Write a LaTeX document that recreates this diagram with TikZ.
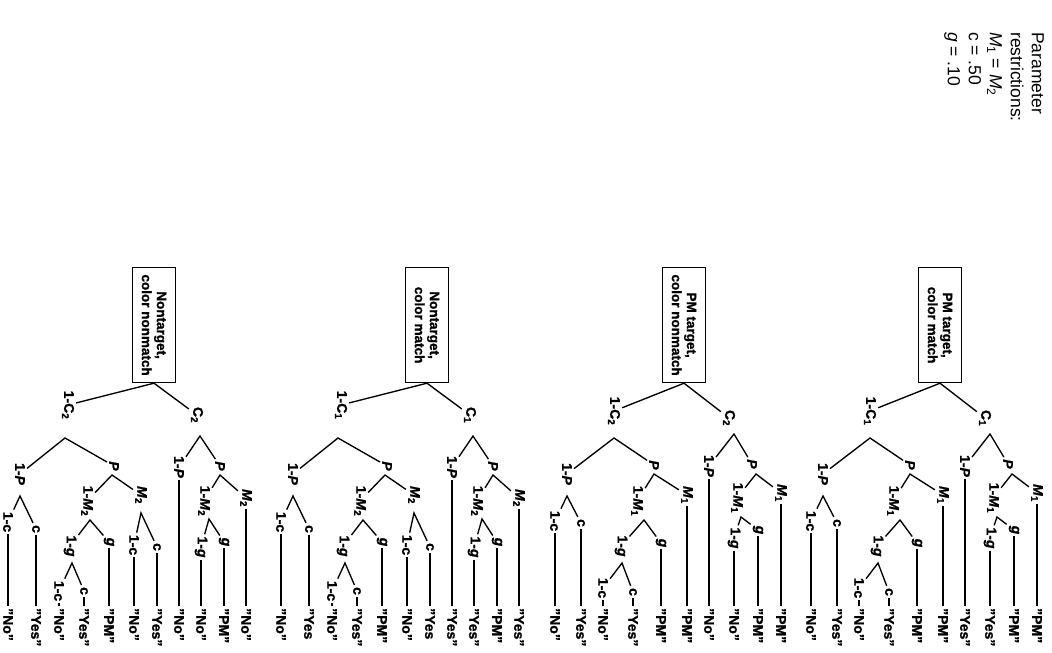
\documentclass[tikz,border=0pt]{standalone}
\usepackage{fontspec}
\setmainfont{Liberation Sans}[BoldFeatures={FakeBold=1.2},BoldItalicFeatures={FakeBold=1.2}]
\tikzset{
  lab/.style={rotate=-90, inner sep=2pt, font=\fontsize{14}{16}\selectfont\bfseries},
  leaf/.style={lab, anchor=west},
  rootbox/.style={draw, line width=1.2pt, rotate=-90, anchor=west, align=center,
    minimum width=115pt, minimum height=43pt, inner sep=2pt,
    font=\fontsize{13.5}{15}\selectfont\bfseries},
  conn/.style={line width=1.35pt},
  params/.style={rotate=-90, anchor=north west, align=left, inner sep=0pt,
    font=\fontsize{17.5}{21}\selectfont},
}
% Type A tree: #1 prefix, #2 centre x, #3 box text, #4 C index, #5 leaf after 1-g, #6 leaf after 1-P
\newcommand\mytreeA[6]{%
  \node[rootbox] (#1R) at (#2,267) {#3};
  \node[lab] (#1C)  at ({#2+45},418) {C\textsubscript{#4}};
  \node[lab] (#1nC) at ({#2-70},411) {1-C\textsubscript{#4}};
  \coordinate (#1aC)  at ({#2+50},434);
  \coordinate (#1anC) at ({#2-70},438);
  \node[lab] (#1Pa)  at ({#2+68},464) {\textit{P}};
  \coordinate (#1aPa) at ({#2+72},474);
  \node[lab] (#1nPa) at ({#2+25},466) {1-\textit{P}};
  \node[lab] (#1Ma)  at ({#2+97},493) {\textit{M}\textsubscript{1}};
  \node[lab] (#1nMa) at ({#2+53},498) {1-\textit{M}\textsubscript{1}};
  \coordinate (#1anMa) at ({#2+57},517);
  \node[lab] (#1ga)  at ({#2+74},530) {\textit{g}};
  \node[lab] (#1nga) at ({#2+50},538) {1-\textit{g}};
  \node[lab] (#1Pb)  at ({#2-30},465) {\textit{P}};
  \coordinate (#1aPb) at ({#2-30},474);
  \node[lab] (#1nPb) at ({#2-117},474) {1-\textit{P}};
  \coordinate (#1anPb) at ({#2-117},496);
  \node[lab] (#1cp)  at ({#2-103},523) {c};
  \node[lab] (#1ncp) at ({#2-129},521) {1-c};
  \node[lab] (#1Mb)  at ({#2+3},495) {\textit{M}\textsubscript{1}};
  \node[lab] (#1nMb) at ({#2-47},501) {1-\textit{M}\textsubscript{1}};
  \coordinate (#1anMb) at ({#2-40},520);
  \node[lab] (#1gb)  at ({#2-23},543) {\textit{g}};
  \node[lab] (#1ngb) at ({#2-63},546) {1-\textit{g}};
  \coordinate (#1angb) at ({#2-62},563);
  \node[lab] (#1cg)  at ({#2-51},592) {c};
  \node[lab] (#1ncg) at ({#2-81},588) {1-c};
  % leaves
  \node[leaf] (#1LMa)  at ({#2+97},606) {"PM"};
  \node[leaf] (#1Lga)  at ({#2+74},606) {"PM"};
  \node[leaf] (#1Lnga) at ({#2+50},606) {#5};
  \node[leaf] (#1LnPa) at ({#2+25},606) {#6};
  \node[leaf] (#1LMb)  at ({#2+3},606) {"PM"};
  \node[leaf] (#1Lgb)  at ({#2-23},606) {"PM"};
  \node[leaf] (#1Lcg)  at ({#2-51},606) {"Yes"};
  \node[leaf] (#1Lncg) at ({#2-81},606) {"No"};
  \node[leaf] (#1Lcp)  at ({#2-103},606) {"Yes"};
  \node[leaf] (#1Lncp) at ({#2-129},606) {"No"};
  % connectors
  \draw[conn] (#1R.east) -- (#1C);
  \draw[conn] (#1R.east) -- (#1nC);
  \draw[conn] (#1nPa) -- (#1aC) -- (#1Pa);
  \draw[conn] (#1nMa) -- (#1aPa) -- (#1Ma);
  \draw[conn] (#1nga) -- (#1anMa) -- (#1ga);
  \draw[conn] (#1nPb) -- (#1anC) -- (#1Pb);
  \draw[conn] (#1nMb) -- (#1aPb) -- (#1Mb);
  \draw[conn] (#1ngb) -- (#1anMb) -- (#1gb);
  \draw[conn] (#1ncg) -- (#1angb) -- (#1cg);
  \draw[conn] (#1ncp) -- (#1anPb) -- (#1cp);
  \foreach \n in {Ma,ga,nga,nPa,Mb,gb,cg,ncg,cp,ncp}
    \draw[conn] (#1\n) -- (#1L\n);
}
% Type B tree: #1 prefix, #2 centre x, #3 box text, #4 C index, #5 leaf (M2, 1-g, 1-P of the C branch), #6 closing quote of c leaves
\newcommand\mytreeB[6]{%
  \node[rootbox] (#1R) at (#2,267) {#3};
  \node[lab] (#1C)  at ({#2+43},415) {C\textsubscript{#4}};
  \node[lab] (#1nC) at ({#2-86},405) {1-C\textsubscript{#4}};
  \coordinate (#1aC)  at ({#2+46},436);
  \coordinate (#1anC) at ({#2-89},438);
  \node[lab] (#1Pa)  at ({#2+66},466) {\textit{P}};
  \coordinate (#1aPa) at ({#2+66},475);
  \node[lab] (#1nPa) at ({#2+25},467) {1-\textit{P}};
  \node[lab] (#1Ma)  at ({#2+92},498) {\textit{M}\textsubscript{2}};
  \node[lab] (#1nMa) at ({#2+50},501) {1-\textit{M}\textsubscript{2}};
  \coordinate (#1anMa) at ({#2+55},519);
  \node[lab] (#1ga)  at ({#2+70},542) {\textit{g}};
  \node[lab] (#1nga) at ({#2+47},547) {1-\textit{g}};
  \node[lab] (#1Pb)  at ({#2-40},466) {\textit{P}};
  \coordinate (#1aPb) at ({#2-42},475);
  \node[lab] (#1Mb)  at ({#2-13},495) {\textit{M}\textsubscript{2}};
  \coordinate (#1aMb) at ({#2-13},513);
  \node[lab] (#1cm)  at ({#2+3},547) {c};
  \node[lab] (#1ncm) at ({#2-20},545) {1-c};
  \node[lab] (#1nMb) at ({#2-67},501) {1-\textit{M}\textsubscript{2}};
  \coordinate (#1anMb) at ({#2-64},520);
  \node[lab] (#1gb)  at ({#2-45},542) {\textit{g}};
  \node[lab] (#1ngb) at ({#2-84},546) {1-\textit{g}};
  \coordinate (#1angb) at ({#2-82},563);
  \node[lab] (#1cg)  at ({#2-70},591) {c};
  \node[lab] (#1ncg) at ({#2-95},591) {1-c};
  \node[lab] (#1nPb) at ({#2-134},474) {1-\textit{P}};
  \coordinate (#1anPb) at ({#2-134},496);
  \node[lab] (#1cp)  at ({#2-118},529) {c};
  \node[lab] (#1ncp) at ({#2-146},522) {1-c};
  % leaves
  \node[leaf] (#1LMa)  at ({#2+92},606) {#5};
  \node[leaf] (#1Lga)  at ({#2+70},606) {"PM"};
  \node[leaf] (#1Lnga) at ({#2+47},606) {#5};
  \node[leaf] (#1LnPa) at ({#2+25},606) {#5};
  \node[leaf] (#1Lcm)  at ({#2+3},606) {"Yes#6};
  \node[leaf] (#1Lncm) at ({#2-20},606) {"No"};
  \node[leaf] (#1Lgb)  at ({#2-45},606) {"PM"};
  \node[leaf] (#1Lcg)  at ({#2-70},606) {"Yes"};
  \node[leaf] (#1Lncg) at ({#2-95},606) {"No"};
  \node[leaf] (#1Lcp)  at ({#2-118},606) {"Yes#6};
  \node[leaf] (#1Lncp) at ({#2-146},606) {"No"};
  % connectors
  \draw[conn] (#1R.east) -- (#1C);
  \draw[conn] (#1R.east) -- (#1nC);
  \draw[conn] (#1nPa) -- (#1aC) -- (#1Pa);
  \draw[conn] (#1nMa) -- (#1aPa) -- (#1Ma);
  \draw[conn] (#1nga) -- (#1anMa) -- (#1ga);
  \draw[conn] (#1nPb) -- (#1anC) -- (#1Pb);
  \draw[conn] (#1nMb) -- (#1aPb) -- (#1Mb);
  \draw[conn] (#1ncm) -- (#1aMb) -- (#1cm);
  \draw[conn] (#1ngb) -- (#1anMb) -- (#1gb);
  \draw[conn] (#1ncg) -- (#1angb) -- (#1cg);
  \draw[conn] (#1ncp) -- (#1anPb) -- (#1cp);
  \foreach \n in {Ma,ga,nga,nPa,cm,ncm,gb,cg,ncg,cp,ncp}
    \draw[conn] (#1\n) -- (#1L\n);
}
\begin{document}
\begin{tikzpicture}[x=1pt,y=-1pt]
  \useasboundingbox (0,0) rectangle (1052,653);
  \node[params] (par) at (1044,32) {Parameter\\restrictions:\\\textit{M}\textsubscript{1} = \textit{M}\textsubscript{2}\\c = .50\\\textit{g} = .10};
  \mytreeA{ta}{940}{PM target,\\color match}{1}{"Yes"}{"Yes"}
  \mytreeA{tb}{684}{PM target,\\color nonmatch}{2}{"No"}{"No"}
  \mytreeB{tc}{427}{Nontarget,\\color match}{1}{"Yes"}{}
  \mytreeB{td}{154}{Nontarget,\\color nonmatch}{2}{"No"}{"}
\end{tikzpicture}
\end{document}
